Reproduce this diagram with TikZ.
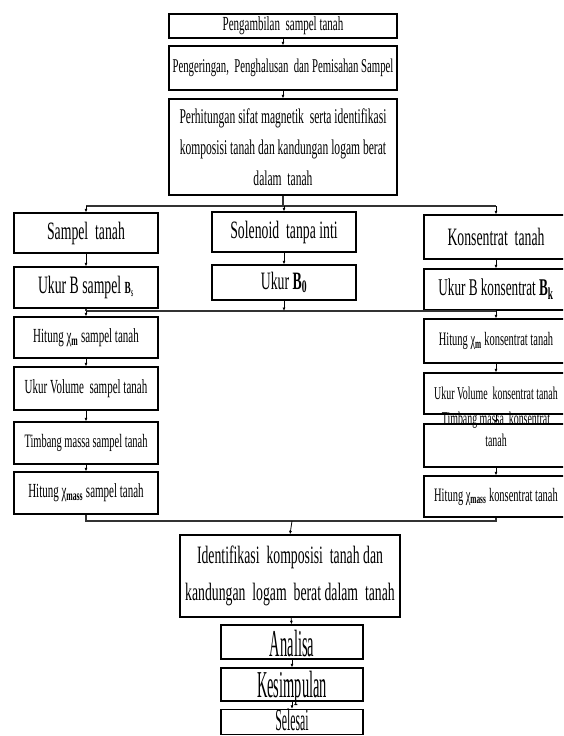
\documentclass[tikz,border=0pt]{standalone}
\usepackage{fontspec}
\setmainfont{Liberation Serif}
% narrow serif faces used throughout the chart
\newfontfamily\nrw[FakeStretch=0.55]{Liberation Serif}
\newfontfamily\nrwx[FakeStretch=0.38]{Liberation Serif}
\usetikzlibrary{arrows.meta}

\newcommand{\fs}[2]{\fontsize{#1}{#2}\selectfont}

\begin{document}
\begin{tikzpicture}[x=1pt,y=-1pt,
  box/.style={draw=black, line width=1.3pt, inner sep=0pt, align=center},
  big/.style={box, font=\nrwx\fs{38}{40}, text depth=0pt},
  flow/.style={line width=0.8pt, -{Latex[length=3.5pt,width=3pt]}},
  bus/.style={line width=1.5pt, draw=black!80},
]
\clip (0,0) rectangle (563,736);

% ---- top sequence
\node[box, font=\nrw\fs{20}{24}, minimum width=228pt, minimum height=24pt] (b1) at (283,26) {Pengambilan\ \ sampel tanah};
\node[box, font=\nrw\fs{19.5}{24}, minimum width=228pt, minimum height=44pt] (b2) at (283,68) {Pengeringan,\ \ Penghalusan\ \ dan Pemisahan Sampel};
\node[box, font=\nrw\fs{21}{31}, minimum width=228pt, minimum height=96pt] (b3) at (283,147) {Perhitungan sifat magnetik\ \ serta identifikasi\\komposisi tanah dan kandungan logam berat\\dalam\ \ tanah};

% ---- three columns
\node[box, font=\nrw\fs{25}{28}, minimum width=144pt, minimum height=40pt] (L1) at (86,233) {Sampel\ \ tanah};
\node[box, font=\nrw\fs{25}{28}, minimum width=144pt, minimum height=41pt] (L2) at (86,287.5) {Ukur B sampel {\fs{17}{20}\textbf{B}\textsubscript{s}}};
\node[box, font=\nrw\fs{25}{28}, minimum width=144pt, minimum height=40pt] (M1) at (284,232) {Solenoid\ \ tanpa inti};
\node[box, font=\nrw\fs{25}{28}, minimum width=144pt, minimum height=35pt] (M2) at (284,282.5) {Ukur \textbf{B}\textsubscript{\textbf{0}}};
\node[box, font=\nrw\fs{25}{28}, minimum width=144pt, minimum height=44pt] (R1) at (496,237) {Konsentrat\ \ tanah};
\node[box, font=\nrw\fs{24}{28}, minimum width=144pt, minimum height=41pt] (R2) at (496,289.5) {Ukur B konsentrat \textbf{B}\textsubscript{\textbf{k}}};

\node[box, font=\nrw\fs{20}{24}, minimum width=144pt, minimum height=41pt] (L3) at (86,337.5) {Hitung χ\textsubscript{\textbf{m}} sampel tanah};
\node[box, font=\nrw\fs{20}{24}, minimum width=144pt, minimum height=43pt] (L4) at (86,388.5) {Ukur Volume\ \ sampel tanah};
\node[box, font=\nrw\fs{19}{24}, minimum width=144pt, minimum height=42pt] (L5) at (86,443) {Timbang massa sampel tanah};
\node[box, font=\nrw\fs{20}{24}, minimum width=144pt, minimum height=42pt] (L6) at (86,493) {Hitung χ\textsubscript{\textbf{mass}} sampel tanah};

\node[box, font=\nrw\fs{19}{24}, minimum width=144pt, minimum height=44pt] (R3) at (496,341) {Hitung χ\textsubscript{\textbf{m}} konsentrat tanah};
\node[box, font=\nrw\fs{18}{24}, minimum width=144pt, minimum height=41pt] (R4) at (496,393.5) {Ukur Volume\ \ konsentrat tanah};
\node[box, font=\nrw\fs{18}{22}, minimum width=144pt, minimum height=43pt, text height=11pt, text depth=9pt] (R5) at (496,445.5) {Timbang massa\ \ konsentrat\\tanah};
\node[box, font=\nrw\fs{19}{24}, minimum width=144pt, minimum height=41pt] (R6) at (496,496.5) {Hitung χ\textsubscript{\textbf{mass}} konsentrat tanah};

% ---- closing sequence
\node[box, font=\nrw\fs{25}{37}, minimum width=220pt, minimum height=82pt] (F1) at (290,576) {Identifikasi\ \ komposisi\ \ tanah dan\\kandungan\ \ logam\ \ berat dalam\ \ tanah};
\node[big, minimum width=142pt, minimum height=34pt, text height=28pt] (F2) at (292,642) {Analisa};
\node[big, minimum width=142pt, minimum height=33pt, text height=25pt] (F3) at (292,684.5) {Kesimpulan};
\node[big, font=\nrwx\fs{31}{33}, minimum width=142pt, minimum height=25pt, text height=17pt] (F4) at (292,722) {Selesai};

% ---- junction points of the three bus lines
\coordinate (j1) at (283,206);
\coordinate (j2) at (284,311);
\coordinate (j3) at (292,521);

% top chain
\draw[flow] (b1) -- (b2);
\draw[flow] (b2) -- (b3);

% first split
\draw[bus] (b3.south) -- (j1);
\draw[bus] (L1.north |- j1) -- (R1.north |- j1);
\draw[flow] (L1.north |- j1) -- (L1.north);
\draw[flow] (M1.north |- j1) -- (M1.north);
\draw[flow] (R1.north |- j1) -- (R1.north);

\draw[flow] (L1) -- (L2);
\draw[flow] (M1) -- (M2);
\draw[flow] (R1) -- (R2);

% second bus
\draw[bus] (L2.south) -- (L2.south |- j2);
\draw[bus] (R2.south) -- (R2.south |- j2);
\draw[bus] (L2.south |- j2) -- (R2.south |- j2);
\draw[flow] (M2.south) -- (j2);
\draw[flow] (L3.north |- j2) -- (L3.north);
\draw[flow] (R3.north |- j2) -- (R3.north);

\draw[flow] (L3) -- (L4);
\draw[flow] (L4) -- (L5);
\draw[flow] (L5) -- (L6);
\draw[flow] (R3) -- (R4);
\draw[flow] (R4) -- (R5);
\draw[flow] (R5) -- (R6);

% merge
\draw[bus] (L6.south) -- (L6.south |- j3) -- (R6.south |- j3) -- (R6.south);
\draw[flow] (j3) -- (F1.north);

\draw[flow] (F1) -- (F2);
\draw[flow] (F2) -- (F3);
\draw[flow] (F3) -- (F4);
\end{tikzpicture}
\end{document}
